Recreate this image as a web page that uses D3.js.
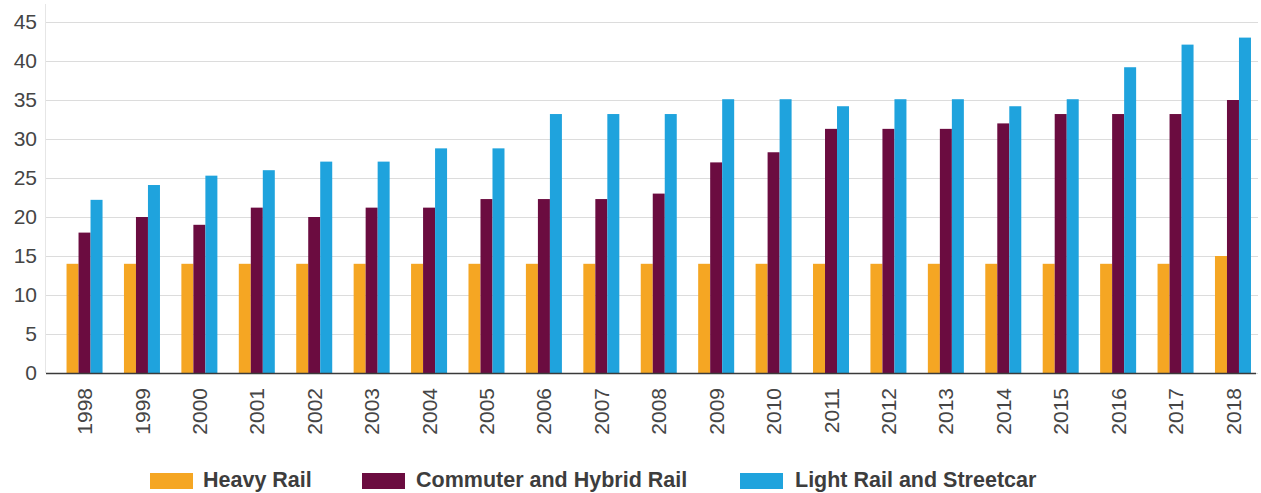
<!DOCTYPE html>
<html>
<head>
<meta charset="utf-8">
<script src="https://cdn.jsdelivr.net/npm/d3@7"></script>
<style>
  html, body { margin: 0; padding: 0; background: #fff; }
  svg { display: block; }
  text { font-family: "Liberation Sans", Arial, Helvetica, sans-serif; }
</style>
</head>
<body>
<svg id="chart" width="1261" height="493"></svg>
<script>
const years = ["1998","1999","2000","2001","2002","2003","2004","2005","2006","2007","2008","2009","2010","2011","2012","2013","2014","2015","2016","2017","2018"];
const seriesNames = ["Heavy Rail", "Commuter and Hybrid Rail", "Light Rail and Streetcar"];
const heavyRail     = [14,14,14,14,14,14,14,14,14,14,14,14,14,14,14,14,14,14,14,14,15];
const commuterRail  = [18,20,19,21.2,20,21.2,21.2,22.3,22.3,22.3,23,27,28.3,31.3,31.3,31.3,32,33.2,33.2,33.2,35];
const lightRail     = [22.2,24.1,25.3,26,27.1,27.1,28.8,28.8,33.2,33.2,33.2,35.1,35.1,34.2,35.1,35.1,34.2,35.1,39.2,42.1,43];
const yTicks = [0,5,10,15,20,25,30,35,40,45];
const colors = ["#f5a623", "#6b0c40", "#1fa3dd"];

const seriesValues = [heavyRail, commuterRail, lightRail];
const data = years.map((y, i) => ({ year: y, values: seriesValues.map((s, k) => ({ key: k, value: s[i] })) }));

const svg = d3.select("#chart");
const plotLeft = 46, plotRight = 1258, plotTop = 22, plotBottom = 373;

const x0 = d3.scaleBand().domain(years).range([plotLeft, plotRight])
  .paddingInner(0.373).paddingOuter(0.24).align(0.745);
const x1 = d3.scaleBand().domain([0,1,2]).range([0, x0.bandwidth()]).padding(0);
const y = d3.scaleLinear().domain([0,45]).range([plotBottom, plotTop]);

// faint left axis line
svg.append("line")
  .attr("x1", plotLeft - 0.5).attr("x2", plotLeft - 0.5)
  .attr("y1", 4).attr("y2", plotBottom)
  .attr("stroke", "#e6e6e6").attr("stroke-width", 1);

// gridlines + y labels
const yAxis = d3.axisLeft(y).tickValues(yTicks).tickSize(-(plotRight - plotLeft)).tickPadding(9);
const gy = svg.append("g").attr("transform", `translate(${plotLeft},0)`).call(yAxis);
gy.select(".domain").remove();
gy.selectAll(".tick line").attr("stroke", "#dcdcdc").attr("stroke-width", 1.2);
gy.selectAll(".tick text")
  .attr("x", -9)
  .attr("fill", "#454545")
  .style("font-size", "21px");

// bars
const groups = svg.append("g").selectAll("g").data(data).join("g")
  .attr("transform", d => `translate(${x0(d.year)},0)`);
groups.selectAll("rect").data(d => d.values).join("rect")
  .attr("x", d => x1(d.key))
  .attr("width", x1.bandwidth())
  .attr("y", d => y(d.value))
  .attr("height", d => y(0) - y(d.value))
  .attr("fill", d => colors[d.key]);

// baseline
svg.append("line")
  .attr("x1", plotLeft).attr("x2", plotRight - 2)
  .attr("y1", plotBottom + 0.5).attr("y2", plotBottom + 0.5)
  .attr("stroke", "#3a3a3a").attr("stroke-width", 1.5);

// x labels
const xAxis = d3.axisBottom(x0).tickSize(0).tickPadding(0);
const gx = svg.append("g").attr("transform", `translate(0,${plotBottom})`).call(xAxis);
gx.select(".domain").remove();
gx.selectAll(".tick text")
  .attr("transform", "rotate(-90)")
  .attr("x", -15)
  .attr("y", 0)
  .attr("dy", "0.36em")
  .attr("text-anchor", "end")
  .attr("fill", "#454545")
  .style("font-size", "21px");

// legend
const legendSwatchX = [150, 362, 740];
const legendTextX = [203, 416, 795];
const legend = svg.append("g").selectAll("g").data(seriesNames).join("g");
legend.append("rect")
  .attr("x", (d, i) => legendSwatchX[i]).attr("y", 473)
  .attr("width", 43).attr("height", 16)
  .attr("fill", (d, i) => colors[i]);
legend.append("text")
  .attr("x", (d, i) => legendTextX[i]).attr("y", 487)
  .attr("fill", "#3d3d3d")
  .style("font-size", "21.5px").style("font-weight", "bold")
  .text(d => d);
</script>
</body>
</html>
